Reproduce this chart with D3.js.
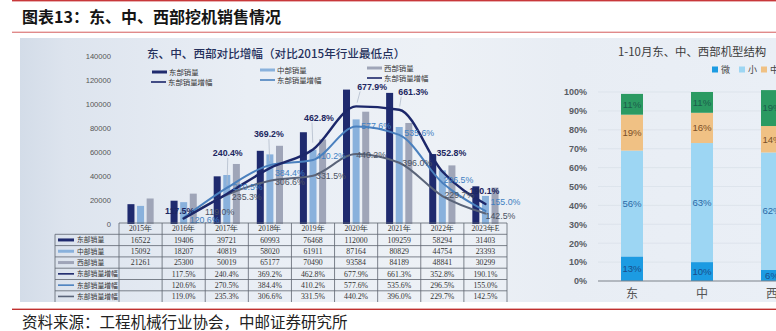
<!DOCTYPE html>
<html>
<head>
<meta charset="utf-8">
<script src="https://cdn.jsdelivr.net/npm/d3@7/dist/d3.min.js"></script>
<style>
  body { margin: 0; background: #ffffff; }
  svg { display: block; }
</style>
</head>
<body>
<svg id="chart" width="776" height="331"></svg>
<script>
// ---- data: yearly excavator sales by region ----
const years = ["2015年", "2016年", "2017年", "2018年", "2019年", "2020年", "2021年", "2022年", "2023年E"];
const eastSales    = [16522, 19406, 39721, 60993, 76468, 112000, 109259, 58294, 31403];
const centralSales = [15092, 18207, 40819, 58020, 61911, 87164, 80829, 44754, 23393];
const westSales    = [21261, 25300, 50019, 65177, 70490, 93584, 84189, 48841, 30299];
// growth versus the 2015 trough (%)
const eastGrowth    = [null, 117.5, 240.4, 369.2, 462.8, 677.9, 661.3, 352.8, 190.1];
const centralGrowth = [null, 120.6, 270.5, 384.4, 410.2, 577.6, 535.6, 296.5, 155.0];
const westGrowth    = [null, 119.0, 235.3, 306.6, 331.5, 440.2, 396.0, 229.7, 142.5];
const salesTicks = [0, 20000, 40000, 60000, 80000, 100000, 120000, 140000];

// ---- data: Jan-Oct machine mix by region (%) ----
const regions = ["东", "中", "西"];
const sizeClasses = ["微", "小", "中", "大"];
const mixMicro  = [13, 10, 6];
const mixSmall  = [56, 63, 62];
const mixMedium = [19, 16, 14];
const mixLarge  = [11, 11, 19];
const pctTicks = [0, 10, 20, 30, 40, 50, 60, 70, 80, 90, 100];

const svg = d3.select("#chart");
const CJK = "'Noto Sans CJK SC', 'Noto Sans', sans-serif";
const SANS = "'Liberation Sans', Arial, sans-serif";
const SERIF = "'Liberation Serif', 'DejaVu Serif', serif";

// ---- page frame: heading, rules, source ----
svg.append("rect").attr("x", 12).attr("y", 0).attr("width", 764).attr("height", 1.4).attr("fill", "#c8383a");
svg.append("text").attr("x", 22).attr("y", 23)
  .attr("font-family", CJK).attr("font-size", 16).attr("font-weight", 700).attr("fill", "#151515")
  .text("图表13：东、中、西部挖机销售情况");
svg.append("rect").attr("x", 12).attr("y", 31.6).attr("width", 764).attr("height", 1.4).attr("fill", "#e08a8a");

// slide backdrop
const defs = svg.append("defs");
const bg = defs.append("linearGradient").attr("id", "slideBg").attr("x1", 0).attr("x2", 1).attr("y1", 0).attr("y2", 0);
[[0, "#d3dce8"], [0.06, "#dde4ee"], [0.3, "#e9eef5"], [0.55, "#edf1f6"], [0.72, "#e8edf4"], [1, "#eaeff6"]]
  .forEach(([o, c]) => bg.append("stop").attr("offset", o).attr("stop-color", c));
svg.append("rect").attr("x", 20).attr("y", 38).attr("width", 756).attr("height", 264).attr("fill", "url(#slideBg)");

svg.append("rect").attr("x", 12).attr("y", 308.6).attr("width", 764).attr("height", 1.4).attr("fill", "#c0302f");
svg.append("text").attr("x", 22).attr("y", 328)
  .attr("font-family", CJK).attr("font-size", 15.5).attr("fill", "#222")
  .text("资料来源：工程机械行业协会，中邮证券研究所");

// ================= left chart: sales + growth =================
const COLORS = { east: "#1f2a6e", central: "#89b1dc", west: "#9fa5b8" };
const LINE_COLORS = { east: "#1c276a", central: "#4a80be", west: "#5a6479" };

const tableLeft = 119, tableRight = 507;
const xCol = d3.scaleBand().domain(years).range([tableLeft, tableRight]).padding(0);
const colW = xCol.bandwidth();
const colCenter = y => xCol(y) + colW / 2;

const ySales = d3.scaleLinear().domain([0, 140000]).range([224, 56]);
const yGrowth = d3.scaleLinear().domain([0, 700]).range([242, 102]);

// chart heading
svg.append("text").attr("x", 147).attr("y", 58)
  .attr("font-family", CJK).attr("font-size", 11.6).attr("font-weight", 500).attr("fill", "#25305c")
  .text("东、中、西部对比增幅（对比2015年行业最低点）");

// legend
const legendItems = [
  { label: "东部销量", color: COLORS.east, bar: true, x: 152, y: 72 },
  { label: "中部销量", color: COLORS.central, bar: true, x: 260, y: 70 },
  { label: "西部销量", color: COLORS.west, bar: true, x: 367, y: 68 },
  { label: "东部销量增幅", color: LINE_COLORS.east, bar: false, x: 151, y: 82 },
  { label: "东部销量增幅", color: LINE_COLORS.central, bar: false, x: 260, y: 80 },
  { label: "东部销量增幅", color: LINE_COLORS.east, bar: false, x: 367, y: 78 }
];
const lg = svg.append("g");
legendItems.forEach(d => {
  lg.append("rect").attr("x", d.x).attr("y", d.y - (d.bar ? 1.5 : 0.8))
    .attr("width", 15).attr("height", d.bar ? 3 : 1.6).attr("fill", d.color);
  lg.append("text").attr("x", d.x + 17).attr("y", d.y + 2.6)
    .attr("font-family", CJK).attr("font-size", 7.4).attr("fill", "#333").text(d.label);
});

// left axis (values only)
const yAxis = svg.append("g").attr("transform", "translate(111,0)")
  .call(d3.axisLeft(ySales).tickValues(salesTicks).tickSize(0).tickPadding(0).tickFormat(d3.format("d")));
yAxis.select(".domain").remove();
yAxis.selectAll("text").attr("font-family", SANS).attr("font-size", 7.6).attr("fill", "#555");

// grouped bars
const barSeries = [
  { key: "east", values: eastSales },
  { key: "central", values: centralSales },
  { key: "west", values: westSales }
];
const xInner = d3.scaleBand().domain(barSeries.map(s => s.key))
  .range([colW / 2 - 13.1, colW / 2 + 13.1]).paddingInner(0.27).paddingOuter(0);
const barG = svg.append("g");
barSeries.forEach(s => {
  barG.selectAll(null).data(s.values).join("rect")
    .attr("x", (v, i) => xCol(years[i]) + xInner(s.key))
    .attr("y", v => ySales(v))
    .attr("width", xInner.bandwidth())
    .attr("height", v => ySales(0) - ySales(v))
    .attr("fill", COLORS[s.key]);
});

// growth lines
const lineSeries = [
  { key: "west", values: westGrowth, width: 2 },
  { key: "central", values: centralGrowth, width: 2 },
  { key: "east", values: eastGrowth, width: 2.4 }
];
const line = d3.line()
  .defined(d => d.v != null)
  .x(d => colCenter(d.year))
  .y(d => yGrowth(d.v))
  .curve(d3.curveMonotoneX);
lineSeries.forEach(s => {
  svg.append("path")
    .datum(s.values.map((v, i) => ({ year: years[i], v })))
    .attr("d", line).attr("fill", "none")
    .attr("stroke", LINE_COLORS[s.key]).attr("stroke-width", s.width)
    .attr("stroke-linejoin", "round").attr("stroke-linecap", "round");
});

// label placement relative to each point (dx, dy to the label centre)
const labelOffsets = {
  east:    [null, [-4, -8], [1, -41], [-1, -34], [6, -32], [16, -20], [14, -18], [9, -19], [-1, -13]],
  central: [null, [21, 2], [21, -1], [20, 8], [18, -4], [20, -1], [20, -2], [16, -3], [20, -9]],
  west:    [null, [36, -6], [20, 2], [20, 1], [18, 0], [15, 1], [18, 0], [17, -1], [15, 2]]
};
// thin callout lines for the dark series labels
const leaderYears = ["2017年", "2018年", "2019年", "2020年", "2021年"];
eastGrowth.forEach((v, i) => {
  if (v == null || !leaderYears.includes(years[i])) return;
  const [dx, dy] = labelOffsets.east[i];
  const px = colCenter(years[i]), py = yGrowth(v);
  const lx = px + dx, ly = py + dy;
  let x1, y1;
  if (Math.abs(dx) < 8) { x1 = lx + (years[i] === "2019年" ? -7 : 0); y1 = ly + 5; }
  else { x1 = lx - 12; y1 = ly + 5; }
  svg.append("line").attr("x1", x1).attr("y1", y1)
    .attr("x2", x1 + (px - x1) * 0.75).attr("y2", y1 + (py - y1) * 0.75)
    .attr("stroke", "#b3bccb").attr("stroke-width", 0.8);
});

const labelStyle = {
  east:    { fill: "#1c2660", weight: 700 },
  central: { fill: "#3f7fc2", weight: 400 },
  west:    { fill: "#4a5263", weight: 400 }
};
const growthBySeries = { east: eastGrowth, central: centralGrowth, west: westGrowth };
["west", "central", "east"].forEach(key => {
  growthBySeries[key].forEach((v, i) => {
    if (v == null) return;
    const [dx, dy] = labelOffsets[key][i];
    svg.append("text")
      .attr("x", colCenter(years[i]) + dx)
      .attr("y", yGrowth(v) + dy + 3.2)
      .attr("text-anchor", "middle")
      .attr("font-family", SANS).attr("font-size", 8.8)
      .attr("font-weight", labelStyle[key].weight)
      .attr("fill", labelStyle[key].fill)
      .text(v.toFixed(1) + "%");
  });
});

// ---- data table under the chart ----
const tableTop = 223, rowH = 11.3, labelLeft = 55;
const tableRows = [
  { label: "东部销量", color: COLORS.east, bar: true, values: eastSales, fmt: d => String(d) },
  { label: "中部销量", color: COLORS.central, bar: true, values: centralSales, fmt: d => String(d) },
  { label: "西部销量", color: COLORS.west, bar: true, values: westSales, fmt: d => String(d) },
  { label: "东部销量增幅", color: LINE_COLORS.east, bar: false, values: eastGrowth, fmt: d => d.toFixed(1) + "%" },
  { label: "东部销量增幅", color: LINE_COLORS.central, bar: false, values: centralGrowth, fmt: d => d.toFixed(1) + "%" },
  { label: "东部销量增幅", color: LINE_COLORS.west, bar: false, values: westGrowth, fmt: d => d.toFixed(1) + "%" }
];
const tg = svg.append("g");
const tableBottom = 302;
const gridStroke = "#5e6470";
// horizontal rules
tg.append("line").attr("x1", tableLeft).attr("x2", tableRight).attr("y1", tableTop).attr("y2", tableTop)
  .attr("stroke", gridStroke).attr("stroke-width", 0.8);
tableRows.forEach((r, k) => {
  const y = tableTop + rowH * (k + 1);
  tg.append("line").attr("x1", labelLeft).attr("x2", tableRight).attr("y1", y).attr("y2", y)
    .attr("stroke", gridStroke).attr("stroke-width", 0.8);
});
// vertical rules
tg.append("line").attr("x1", labelLeft).attr("x2", labelLeft).attr("y1", tableTop + rowH).attr("y2", tableBottom)
  .attr("stroke", gridStroke).attr("stroke-width", 0.8);
years.concat(["end"]).forEach((y, i) => {
  const x = tableLeft + colW * i;
  tg.append("line").attr("x1", x).attr("x2", x).attr("y1", tableTop).attr("y2", tableBottom)
    .attr("stroke", gridStroke).attr("stroke-width", 0.8);
});
// header
years.forEach(y => {
  tg.append("text").attr("x", colCenter(y)).attr("y", tableTop + rowH / 2 + 2.8)
    .attr("text-anchor", "middle").attr("font-family", SERIF).attr("font-size", 7.6).attr("fill", "#333")
    .text(y);
});
// body
tableRows.forEach((r, k) => {
  const cy = tableTop + rowH * (k + 1) + rowH / 2;
  tg.append("rect").attr("x", 58).attr("y", cy - (r.bar ? 1.5 : 0.8))
    .attr("width", 16).attr("height", r.bar ? 3 : 1.6).attr("fill", r.color);
  tg.append("text").attr("x", 77).attr("y", cy + 2.5)
    .attr("font-family", CJK).attr("font-size", 6.8).attr("fill", "#333").text(r.label);
  r.values.forEach((v, i) => {
    if (v == null) return;
    tg.append("text").attr("x", colCenter(years[i])).attr("y", cy + 2.7)
      .attr("text-anchor", "middle").attr("font-family", SERIF).attr("font-size", 7.8).attr("fill", "#333")
      .text(r.fmt(v));
  });
});

// ================= right chart: machine mix =================
const MIX_COLORS = { "微": "#1c9be2", "小": "#9dd6f3", "中": "#f0c184", "大": "#2b9a62" };
const MIX_TEXT = { "微": "#1a4f8c", "小": "#2b6aa6", "中": "#7a5028", "大": "#1b5e4c" };

const xReg = d3.scaleBand().domain(regions).range([597, 807]).paddingInner(48 / 70).paddingOuter(24 / 70);
const yPct = d3.scaleLinear().domain([0, 100]).range([281, 92]);

svg.append("text").attr("x", 618).attr("y", 56)
  .attr("font-family", CJK).attr("font-size", 11.4).attr("fill", "#3b3b3b")
  .text("1-10月东、中、西部机型结构");

// legend
const mixLegendX = [712, 739, 761];
sizeClasses.slice(0, 3).forEach((c, i) => {
  svg.append("rect").attr("x", mixLegendX[i]).attr("y", 66.5).attr("width", 6).attr("height", 6).attr("fill", MIX_COLORS[c]);
  svg.append("text").attr("x", mixLegendX[i] + 9).attr("y", 73)
    .attr("font-family", CJK).attr("font-size", 9).attr("fill", "#444").text(c);
});

// gridlines and tick labels
svg.append("g").selectAll("line").data(pctTicks.filter(t => t > 0)).join("line")
  .attr("x1", 598).attr("x2", 776).attr("y1", d => yPct(d)).attr("y2", d => yPct(d))
  .attr("stroke", "#d9dfe8").attr("stroke-width", 0.7);
const pctAxis = svg.append("g").attr("transform", "translate(587,0)")
  .call(d3.axisLeft(yPct).tickValues(pctTicks).tickSize(0).tickPadding(0).tickFormat(d => d + "%"));
pctAxis.select(".domain").remove();
pctAxis.selectAll("text").attr("font-family", SANS).attr("font-size", 9).attr("font-weight", 700).attr("fill", "#585c63");

// stacked bars
const mixRows = regions.map((r, i) => ({ region: r, "微": mixMicro[i], "小": mixSmall[i], "中": mixMedium[i], "大": mixLarge[i] }));
const stacked = d3.stack().keys(sizeClasses)(mixRows);
const mixG = svg.append("g");
stacked.forEach(layer => {
  const key = layer.key;
  layer.forEach(seg => {
    const x = xReg(seg.data.region);
    mixG.append("rect").attr("x", x).attr("y", yPct(seg[1]))
      .attr("width", xReg.bandwidth()).attr("height", yPct(seg[0]) - yPct(seg[1]))
      .attr("fill", MIX_COLORS[key]);
    mixG.append("text").attr("x", x + xReg.bandwidth() / 2)
      .attr("y", (yPct(seg[0]) + yPct(seg[1])) / 2 + 3.4)
      .attr("text-anchor", "middle").attr("font-family", SANS).attr("font-size", 9.6)
      .attr("fill", MIX_TEXT[key]).text(seg.data[key] + "%");
  });
});

// baseline and category labels
svg.append("line").attr("x1", 598).attr("x2", 776).attr("y1", yPct(0)).attr("y2", yPct(0))
  .attr("stroke", "#7d8189").attr("stroke-width", 1.2);
regions.forEach(r => {
  svg.append("text").attr("x", xReg(r) + xReg.bandwidth() / 2).attr("y", 298)
    .attr("text-anchor", "middle").attr("font-family", CJK).attr("font-size", 12).attr("fill", "#555")
    .text(r);
});
</script>
</body>
</html>
